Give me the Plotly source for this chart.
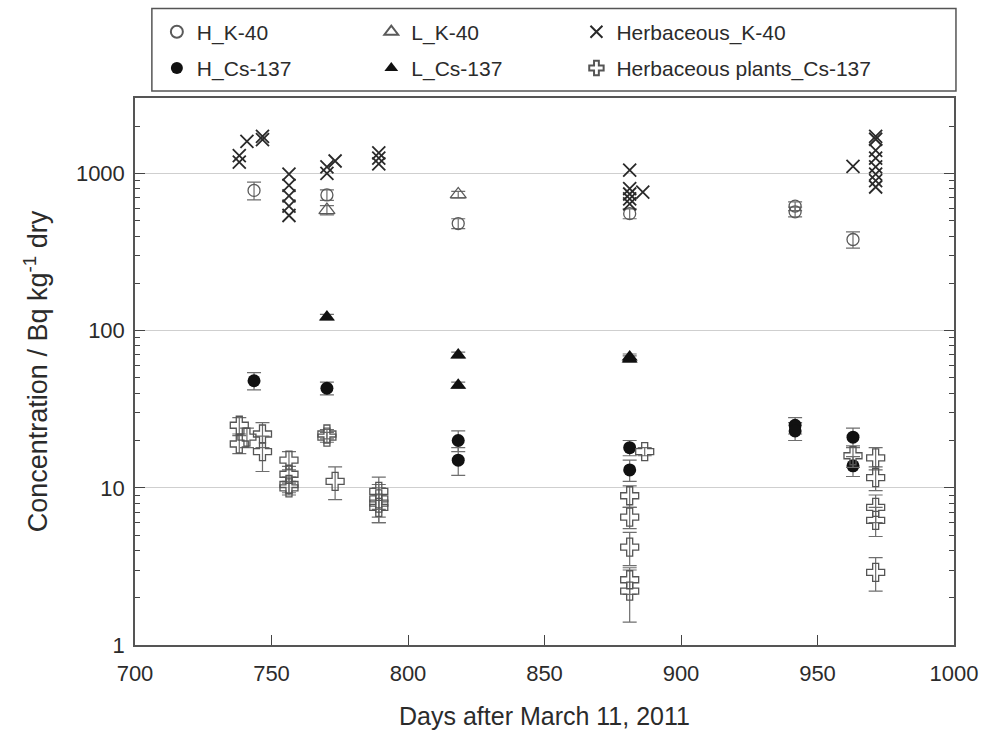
import plotly.graph_objects as go

# ---------------- data ----------------
# H_K-40 (open circles)
hk_days = [743.6, 770.3, 818.4, 881.2, 941.8, 941.8, 963.0]
hk_vals = [780, 730, 480, 555, 620, 570, 380]
hk_err = [100, 55, 35, 40, 40, 40, 45]

# L_K-40 (open triangles)
lk_days = [770.3, 818.4]
lk_vals = [585, 735]
lk_err = [40, 35]

# Herbaceous_K-40 (x)
hbk_days = [738.2, 738.2, 741.0, 746.7, 746.7,
            756.4, 756.4, 756.4, 756.4, 756.4,
            770.3, 770.3, 773.3,
            789.3, 789.3, 789.3,
            881.2, 881.2, 881.2, 881.2, 881.2, 886.0,
            963.0,
            971.3, 971.3, 971.3, 971.3, 971.3, 971.3, 971.3, 971.3]
hbk_vals = [1180, 1300, 1600, 1640, 1720,
            990, 840, 720, 620, 540,
            1000, 1100, 1200,
            1150, 1250, 1350,
            1050, 800, 740, 690, 640, 760,
            1110,
            1720, 1650, 1400, 1250, 1100, 990, 900, 820]

# H_Cs-137 (filled circles)
hc_days = [743.6, 770.3, 818.4, 818.4, 881.2, 881.2, 941.8, 941.8, 963.0, 963.0]
hc_vals = [48, 43, 20, 15, 18, 13, 25, 23, 21, 13.8]
hc_err = [6, 4, 3, 3, 2, 2, 3, 3, 3, 2]

# L_Cs-137 (filled triangles)
lc_days = [770.3, 818.4, 818.4, 881.2, 881.2]
lc_vals = [122, 70, 45, 66, 68]
lc_err = [5, 3, 2, 3, 3]

# Herbaceous plants_Cs-137 (open crosses)
hbc_days = [738.2, 738.2, 741.0, 746.7, 746.7,
            756.4, 756.4, 756.4, 756.4,
            770.3, 770.3, 773.3,
            789.3, 789.3, 789.3, 789.3,
            881.2, 881.2, 881.2, 881.2, 881.2, 886.7,
            963.0,
            971.3, 971.3, 971.3, 971.3, 971.3]
hbc_vals = [25, 19, 21, 22, 17,
            15, 12.2, 10.5, 10,
            22, 21, 11,
            9.5, 8.5, 8, 7.5,
            8.9, 6.5, 4.2, 2.6, 2.2, 17,
            16,
            15.5, 11.6, 7.5, 6.2, 2.9]
hbc_err = [3, 2.5, 3, 4, 4.3,
           2, 1.5, 1.2, 1,
           1.5, 1.5, 2.6,
           2.2, 2, 2, 1.5,
           1.4, 1, 1, 0.5, 0.8, 1,
           2.5,
           2.5, 2, 1.5, 1.3, 0.7]

x_ticks = [700, 750, 800, 850, 900, 950, 1000]
y_ticks = [1, 10, 100, 1000]

# ---------------- style ----------------
FONT = "Liberation Sans, Arial, sans-serif"
TXT = "#2b2b2b"
ERR = "#6e6e6e"

def err(arr, w=7):
    return dict(type="data", array=arr, visible=True, color=ERR, thickness=1.2, width=w)

fig = go.Figure()

fig.add_trace(go.Scatter(
    x=hk_days, y=hk_vals, mode="markers", name="H_K-40", legend="legend", legendgroup="a",
    marker=dict(symbol="circle-open", size=12, color="#5a5a5a", line=dict(width=1.3)),
    error_y=err(hk_err)))
fig.add_trace(go.Scatter(
    x=hc_days, y=hc_vals, mode="markers", name="H_Cs-137", legend="legend", legendgroup="b",
    marker=dict(symbol="circle", size=13, color="#111111", line=dict(width=0)),
    error_y=err(hc_err)))
fig.add_trace(go.Scatter(
    x=lk_days, y=lk_vals, mode="markers", name="L_K-40", legend="legend2", legendgroup="c",
    marker=dict(symbol="triangle-up-open", size=14, color="#5a5a5a", line=dict(width=1.3)),
    error_y=err(lk_err)))
fig.add_trace(go.Scatter(
    x=lc_days, y=lc_vals, mode="markers", name="L_Cs-137", legend="legend2", legendgroup="d",
    marker=dict(symbol="triangle-up", size=14, color="#111111", line=dict(width=0)),
    error_y=err(lc_err)))
fig.add_trace(go.Scatter(
    x=hbk_days, y=hbk_vals, mode="markers", name="Herbaceous_K-40", legend="legend3", legendgroup="e",
    marker=dict(symbol="x-thin-open", size=13, color="#2a2a2a", line=dict(width=1.8, color="#2a2a2a"))))
fig.add_trace(go.Scatter(
    x=hbc_days, y=hbc_vals, mode="markers", name="Herbaceous plants_Cs-137", legend="legend3", legendgroup="f",
    marker=dict(symbol="cross-open", size=15, color="#555555", line=dict(width=1.3)),
    error_y=err(hbc_err)))

# legend frame
fig.add_shape(type="rect", xref="paper", yref="paper",
              x0=0.0206, x1=1.0024, y0=1.0127, y1=1.1636,
              line=dict(color="#555555", width=1.5), fillcolor="rgba(0,0,0,0)")

leg_common = dict(yanchor="top", y=1.158, xanchor="left", font=dict(size=21, color=TXT),
                  bgcolor="rgba(0,0,0,0)", borderwidth=0, tracegroupgap=6,
                  itemsizing="constant", orientation="v")

fig.update_layout(
    width=990, height=740,
    margin=dict(l=135, r=30, t=95, b=95),
    paper_bgcolor="white", plot_bgcolor="white",
    font=dict(family=FONT, color=TXT, size=21),
    showlegend=True,
    legend=dict(x=0.0267, **leg_common),
    legend2=dict(x=0.2885, **leg_common),
    legend3=dict(x=0.539, **leg_common),
    xaxis=dict(range=[700, 1000], tickvals=x_ticks, ticktext=[str(v) for v in x_ticks],
               ticks="inside", ticklen=10, tickcolor="#444", tickwidth=1.2,
               showline=True, linecolor="#555", linewidth=1.5, mirror=True,
               showgrid=False, zeroline=False, tickfont=dict(size=22),
               ticklabelstandoff=8,
               title=dict(text="Days after March 11, 2011", font=dict(size=25), standoff=22)),
    yaxis=dict(type="log", range=[0, 3.48], tickvals=y_ticks, ticktext=[str(v) for v in y_ticks],
               ticks="inside", ticklen=10, tickcolor="#444", tickwidth=1.2,
               minor=dict(ticks="inside", ticklen=5, tickcolor="#444", dtick="D1", showgrid=False),
               showline=True, linecolor="#555", linewidth=1.5, mirror="allticks",
               showgrid=True, gridcolor="#cfcfcf", gridwidth=1.2, zeroline=False,
               tickfont=dict(size=22), ticklabelstandoff=4,
               title=dict(text="Concentration / Bq kg<sup>-1</sup> dry", font=dict(size=27), standoff=20)),
)

fig.write_html("out.html")
